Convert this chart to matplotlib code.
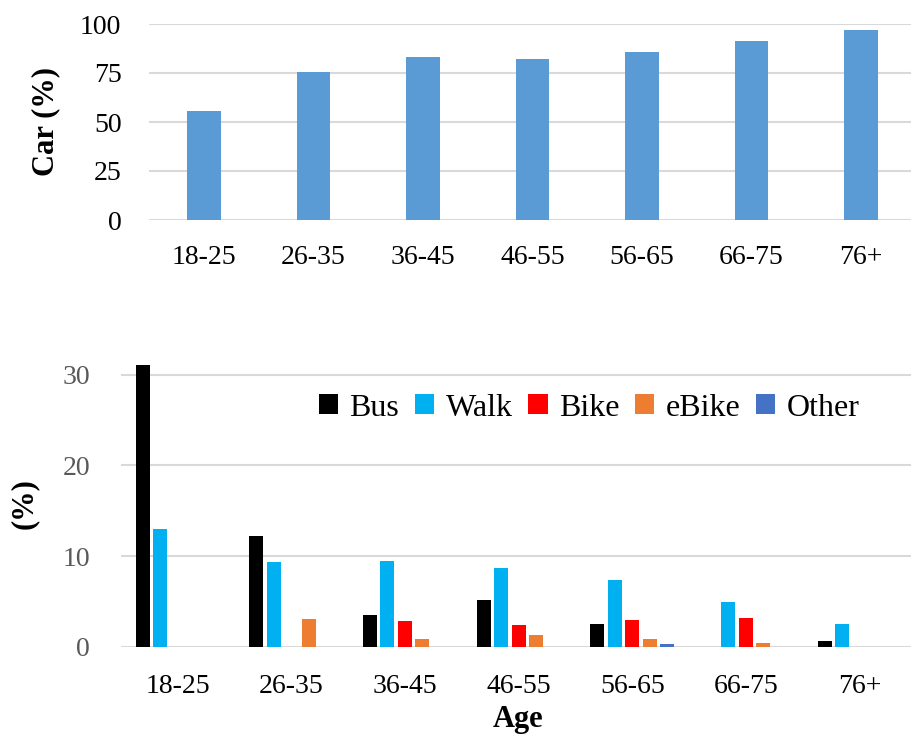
import numpy as np
import matplotlib.pyplot as plt
from matplotlib.patches import Patch

ages = ['18-25', '26-35', '36-45', '46-55', '56-65', '66-75', '76+']
car = [55.6, 75.3, 83.2, 82.3, 85.7, 91.3, 96.8]

modes = ['Bus', 'Walk', 'Bike', 'eBike', 'Other']
bus = [31.1, 12.2, 3.5, 5.1, 2.5, 0.0, 0.6]
walk = [13.0, 9.3, 9.5, 8.7, 7.4, 4.9, 2.5]
bike = [0.0, 0.0, 2.8, 2.4, 2.9, 3.2, 0.0]
ebike = [0.0, 3.1, 0.8, 1.3, 0.8, 0.4, 0.0]
other = [0.0, 0.0, 0.0, 0.0, 0.3, 0.0, 0.0]
colors = ['#000000', '#00B0F0', '#FF0000', '#ED7D31', '#4472C4']

plt.rcParams['font.family'] = ['Liberation Serif', 'DejaVu Serif']
grid_col = '#D9D9D9'

fig = plt.figure(figsize=(9.11, 7.38), dpi=100)
W, H = 911, 738

# car share per age group
ax1 = fig.add_axes([149.25 / W, 1 - 220 / H, 766.5 / W, 196 / H])
x = np.arange(len(ages))
ax1.bar(x, car, width=0.31, color='#5B9BD5', zorder=3)
ax1.set_xlim(-0.5, len(ages) - 0.5)
ax1.set_ylim(0, 100)
ax1.set_yticks([0, 25, 50, 75, 100])
ax1.set_xticks(x)
ax1.set_xticklabels(ages)
ax1.tick_params(axis='x', length=0, pad=18, labelsize=20)
ax1.tick_params(axis='y', length=0, pad=20, labelsize=20)
ax1.grid(axis='y', color=grid_col, linewidth=1.5, zorder=0)
for s in ax1.spines.values():
    s.set_visible(False)
ax1.set_ylabel('Car (%)', fontsize=22, fontweight='bold', va='center')
ax1.yaxis.set_label_coords((46 - 149.25) / 766.5, 0.5)

# other modes per age group
ax2 = fig.add_axes([120.7 / W, 1 - 646.7 / H, 795.7 / W, 285.6 / H])
series = [bus, walk, bike, ebike, other]
bw = 0.123
step = 0.154
for i, (vals, c) in enumerate(zip(series, colors)):
    ax2.bar(x + (i - 2) * step, vals, width=bw, color=c, zorder=3)
ax2.set_xlim(-0.5, len(ages) - 0.5)
ax2.set_ylim(0, 31.5)
ax2.set_yticks([0, 10, 20, 30])
ax2.set_xticks(x)
ax2.set_xticklabels(ages)
ax2.tick_params(axis='x', length=0, pad=20, labelsize=20)
ax2.tick_params(axis='y', length=0, pad=22, labelsize=20, labelcolor='#595959')
ax2.grid(axis='y', color=grid_col, linewidth=1.5, zorder=0)
for s in ax2.spines.values():
    s.set_visible(False)
ax2.set_ylabel('(%)', fontsize=22, fontweight='bold', va='center')
ax2.yaxis.set_label_coords((24 - 120.7) / 795.7, 0.5)
ax2.set_xlabel('Age', fontsize=22, fontweight='bold', va='center')
ax2.xaxis.set_label_coords(0.5, -(720 - 646.7) / 285.6)

handles = [Patch(facecolor=c, label=m) for m, c in zip(modes, colors)]
fig.legend(handles=handles, loc='center left', bbox_to_anchor=(319 / W, 1 - 408 / H),
           bbox_transform=fig.transFigure, ncol=5, frameon=False, fontsize=23,
           handlelength=0.6, handleheight=0.6, handletextpad=0.35,
           columnspacing=0.5, borderpad=0, borderaxespad=0)

fig.savefig('out.png', dpi=100)
